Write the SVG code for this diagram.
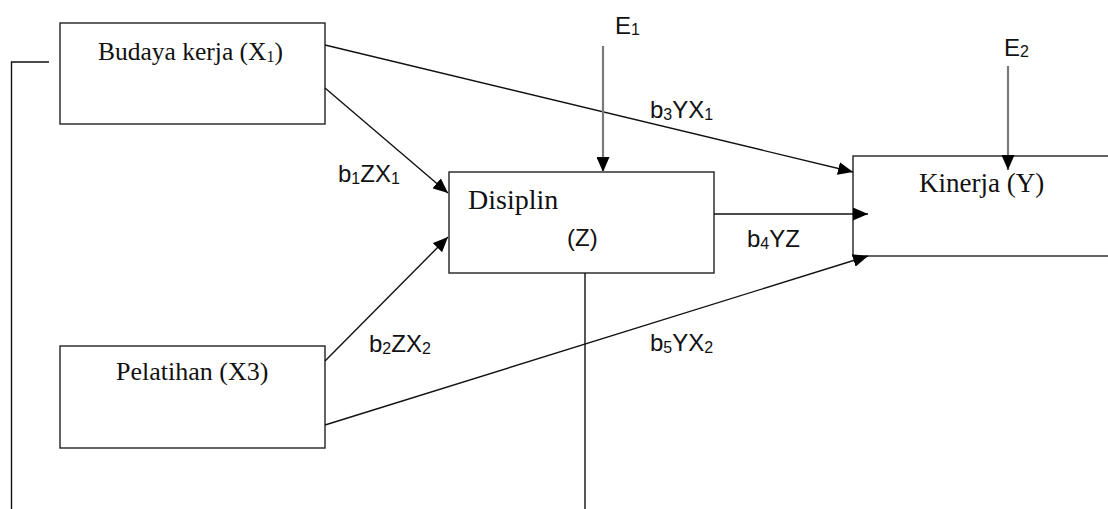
<svg xmlns="http://www.w3.org/2000/svg" width="1108" height="509" viewBox="0 0 1108 509">
<defs>
<style>
.box{fill:#fff;stroke:#222;stroke-width:1.4}
.ln{fill:none;stroke:#111;stroke-width:1.4}
.gl{fill:none;stroke:#7a7a7a;stroke-width:2.2}
.serif{font-family:"Liberation Serif","Times New Roman",serif;fill:#111}
.sans{font-family:"Liberation Sans",Arial,sans-serif;fill:#111;font-size:24px}
.sub{font-size:16px}
</style>
<marker id="ah" markerUnits="userSpaceOnUse" markerWidth="16" markerHeight="13" refX="15" refY="6.5" orient="auto">
<path d="M0,0 L15,6.5 L0,13 z" fill="#000"/>
</marker>
</defs>
<rect width="1108" height="509" fill="#fff"/>
<g id="node-x1">
<rect class="box" x="60" y="23" width="265" height="101"/>
<text class="serif" x="98" y="60" font-size="25.5">Budaya kerja (X<tspan class="sub" font-size="17" dy="2">1</tspan><tspan dy="-2">)</tspan></text>
</g>
<g id="node-x3">
<rect class="box" x="60" y="346" width="265" height="102"/>
<text class="serif" x="116" y="380" font-size="26">Pelatihan (X3)</text>
</g>
<g id="node-z">
<rect class="box" x="449" y="172" width="265" height="101"/>
<text class="serif" x="468" y="209" font-size="28">Disiplin</text>
<text class="sans" x="567" y="246" font-size="22">(Z)</text>
</g>
<g id="node-y">
<rect class="box" x="853" y="156" width="270" height="100"/>
<text class="serif" x="919" y="192" font-size="27">Kinerja (Y)</text>
</g>
<g id="node-e1">
<text class="sans" x="615" y="34" font-size="23">E<tspan class="sub" font-size="15" dy="1">1</tspan></text>
</g>
<g id="node-e2">
<text class="sans" x="1004" y="56" font-size="23">E<tspan class="sub" font-size="15" dy="1">2</tspan></text>
</g>
<g id="labels">
<text class="sans" x="338" y="182">b<tspan class="sub" dy="2">1</tspan><tspan dy="-2">ZX</tspan><tspan class="sub" dy="2">1</tspan></text>
<text class="sans" x="650" y="118">b<tspan class="sub" dy="2">3</tspan><tspan dy="-2">YX</tspan><tspan class="sub" dy="2">1</tspan></text>
<text class="sans" x="747" y="247">b<tspan class="sub" dy="2">4</tspan><tspan dy="-2">YZ</tspan></text>
<text class="sans" x="369" y="352">b<tspan class="sub" dy="2">2</tspan><tspan dy="-2">ZX</tspan><tspan class="sub" dy="2">2</tspan></text>
<text class="sans" x="650" y="351">b<tspan class="sub" dy="2">5</tspan><tspan dy="-2">YX</tspan><tspan class="sub" dy="2">2</tspan></text>
</g>
<g id="connectors">
<path class="ln" d="M325,45 L853,172" marker-end="url(#ah)"/>
<path class="ln" d="M325,88 L448,193" marker-end="url(#ah)"/>
<path class="ln" d="M325,361 L448,237" marker-end="url(#ah)"/>
<path class="ln" d="M325,425 L868,256" marker-end="url(#ah)"/>
<path class="ln" d="M714,214 L868,214" marker-end="url(#ah)"/>
<path class="gl" d="M603,46 L603,172" marker-end="url(#ah)"/>
<path class="gl" d="M1008,66 L1008,170" marker-end="url(#ah)"/>
<path class="ln" d="M49,62 H11.5 V509"/>
<path class="ln" d="M585,273 V509"/>
</g>
</svg>
